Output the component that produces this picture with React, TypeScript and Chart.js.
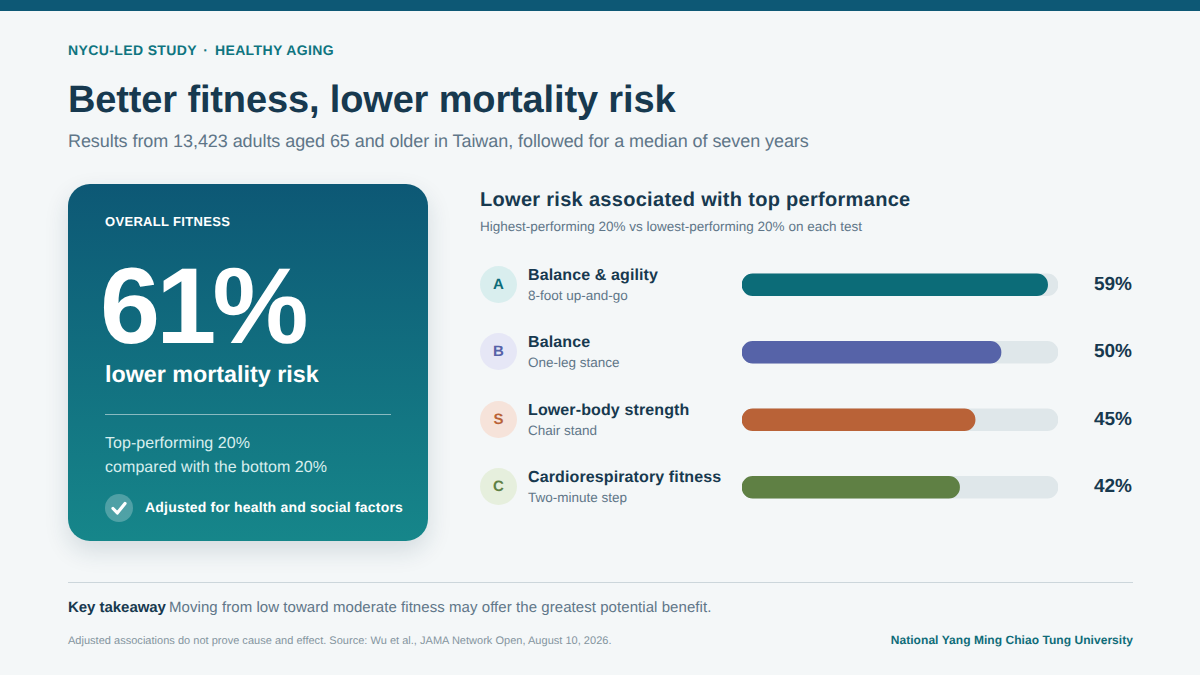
import React, { useEffect, useRef } from "react";
import { Chart, registerables } from "chart.js";

Chart.register(...registerables);

const categories = ["Balance & agility", "Balance", "Lower-body strength", "Cardiorespiratory fitness"];
const tests = ["8-foot up-and-go", "One-leg stance", "Chair stand", "Two-minute step"];
const badges = ["A", "B", "S", "C"];
const values = [59, 50, 45, 42];
const overall = 61;
const barColors = ["#0c6c78", "#5663a8", "#b96237", "#5f8044"];
const badgeBg = ["#d9eeee", "#e6e7f6", "#f6e3da", "#e6efdd"];
const trackColor = "#dfe7ea";

const FONT = '"Liberation Sans", Arial, sans-serif';
const INK = "#17394f";
const MUTED = "#5f7688";

type TProps = { x: number; y: number; s: number; c: string; b?: boolean; ls?: number; right?: boolean; children: React.ReactNode };
function T({ x, y, s, c, b, ls, right, children }: TProps) {
  const st: React.CSSProperties = {
    position: "absolute",
    top: y,
    fontSize: s,
    lineHeight: "20px",
    height: 20,
    color: c,
    fontWeight: b ? 700 : 400,
    letterSpacing: ls ?? 0,
    whiteSpace: "nowrap",
  };
  if (right) st.right = 1200 - x;
  else st.left = x;
  return <div style={st}>{children}</div>;
}

export default function App() {
  const ref = useRef<HTMLCanvasElement>(null);
  useEffect(() => {
    document.body.style.margin = "0";
    const chart = new Chart(ref.current!, {
      type: "bar",
      data: {
        labels: categories,
        datasets: [
          {
            label: "Lower risk",
            data: values,
            backgroundColor: barColors,
            borderRadius: 11,
            borderSkipped: false,
            barThickness: 22,
            grouped: false,
            order: 1,
          },
          {
            label: "Track",
            data: categories.map(() => overall),
            backgroundColor: trackColor,
            borderRadius: 11,
            borderSkipped: false,
            barThickness: 22,
            grouped: false,
            order: 2,
          },
        ],
      },
      options: {
        indexAxis: "y",
        animation: false,
        responsive: false,
        devicePixelRatio: 1,
        layout: { padding: 0 },
        plugins: { legend: { display: false }, tooltip: { enabled: false } },
        scales: {
          x: { display: false, min: 0, max: overall },
          y: { display: false },
        },
      },
    });
    return () => chart.destroy();
  }, []);

  const rowY = (i: number) => 284 + i * 67.5;

  return (
    <div style={{ position: "relative", width: 1200, height: 675, background: "#f4f7f8", overflow: "hidden", fontFamily: FONT, textRendering: "geometricPrecision", filter: "blur(0.3px)" }}>
      <div style={{ position: "absolute", left: 0, top: 0, width: 1200, height: 11, background: "#0d5875" }} />
      <T x={68} y={40} s={14} c="#0f7580" b ls={0.38}>NYCU-LED STUDY <span style={{ margin: "0 2.3px" }}>·</span> HEALTHY AGING</T>
      <T x={68} y={90} s={38} c={INK} b ls={-0.14}>Better fitness, lower mortality risk</T>
      <T x={68} y={131} s={18} c={MUTED} ls={-0.07}>Results from 13,423 adults aged 65 and older in Taiwan, followed for a median of seven years</T>

      <div style={{ position: "absolute", left: 68, top: 184, width: 360, height: 357, borderRadius: 22, background: "linear-gradient(180deg,#0d5875,#16868a)", boxShadow: "0 10px 24px rgba(23,57,79,0.14)" }} />
      <T x={105} y={212} s={13} c="#ffffff" b ls={0.32}>OVERALL FITNESS</T>
      <div style={{ position: "absolute", left: 100, top: 251, fontSize: 108, lineHeight: "110px", fontWeight: 700, color: "#fff", letterSpacing: -3.8, whiteSpace: "nowrap" }}>{overall}%</div>
      <T x={105} y={364} s={23.3} c="#ffffff" b>lower mortality risk</T>
      <div style={{ position: "absolute", left: 105, top: 414, width: 286, height: 1, background: "rgba(255,255,255,0.5)" }} />
      <T x={105} y={434} s={16} c="#d8eeee" ls={0.05}>Top-performing 20%</T>
      <T x={105} y={458} s={16} c="#d8eeee" ls={0.05}>compared with the bottom 20%</T>
      <div style={{ position: "absolute", left: 105, top: 494, width: 28, height: 28, borderRadius: 14, background: "rgba(255,255,255,0.25)" }}>
        <svg width="28" height="28" viewBox="0 0 28 28"><path d="M8 14.5 L12.3 19 L20 9.5" fill="none" stroke="#fff" strokeWidth="3.2" strokeLinecap="round" strokeLinejoin="round" /></svg>
      </div>
      <T x={145} y={497} s={14} c="#ffffff" b ls={0.2}>Adjusted for health and social factors</T>

      <T x={480} y={190} s={20} c={INK} b ls={0.3}>Lower risk associated with top performance</T>
      <T x={480} y={217} s={13.5} c={MUTED}>Highest-performing 20% vs lowest-performing 20% on each test</T>

      {categories.map((name, i) => (
        <React.Fragment key={name}>
          <div style={{ position: "absolute", left: 480, top: rowY(i) - 18.5, width: 37, height: 37, borderRadius: 19, background: badgeBg[i], color: barColors[i], fontSize: 15, fontWeight: 700, lineHeight: "37px", textAlign: "center" }}>{badges[i]}</div>
          <T x={528} y={rowY(i) - 18.5} s={16} c={INK} b ls={0.12}>{name}</T>
          <T x={528} y={rowY(i) + 1.7} s={13.5} c={MUTED}>{tests[i]}</T>
          <T x={1132} y={rowY(i) - 9.5} s={19} c={INK} b right>{values[i]}%</T>
        </React.Fragment>
      ))}

      <canvas ref={ref} width={316} height={270} style={{ position: "absolute", left: 742, top: 250.5, width: 316, height: 270 }} />

      <div style={{ position: "absolute", left: 68, top: 582, width: 1065, height: 1, background: "#ccd6db" }} />
      <T x={68} y={598} s={15} c={INK} b ls={-0.04}>Key takeaway</T>
      <T x={169} y={598} s={15} c={MUTED} ls={0.06}>Moving from low toward moderate fitness may offer the greatest potential benefit.</T>
      <T x={68} y={630.5} s={11} c="#84959f" ls={0.02}>Adjusted associations do not prove cause and effect. Source: Wu et al., JAMA Network Open, August 10, 2026.</T>
      <T x={1133} y={630} s={12} c="#0f6c78" b ls={0.05} right>National Yang Ming Chiao Tung University</T>
    </div>
  );
}
